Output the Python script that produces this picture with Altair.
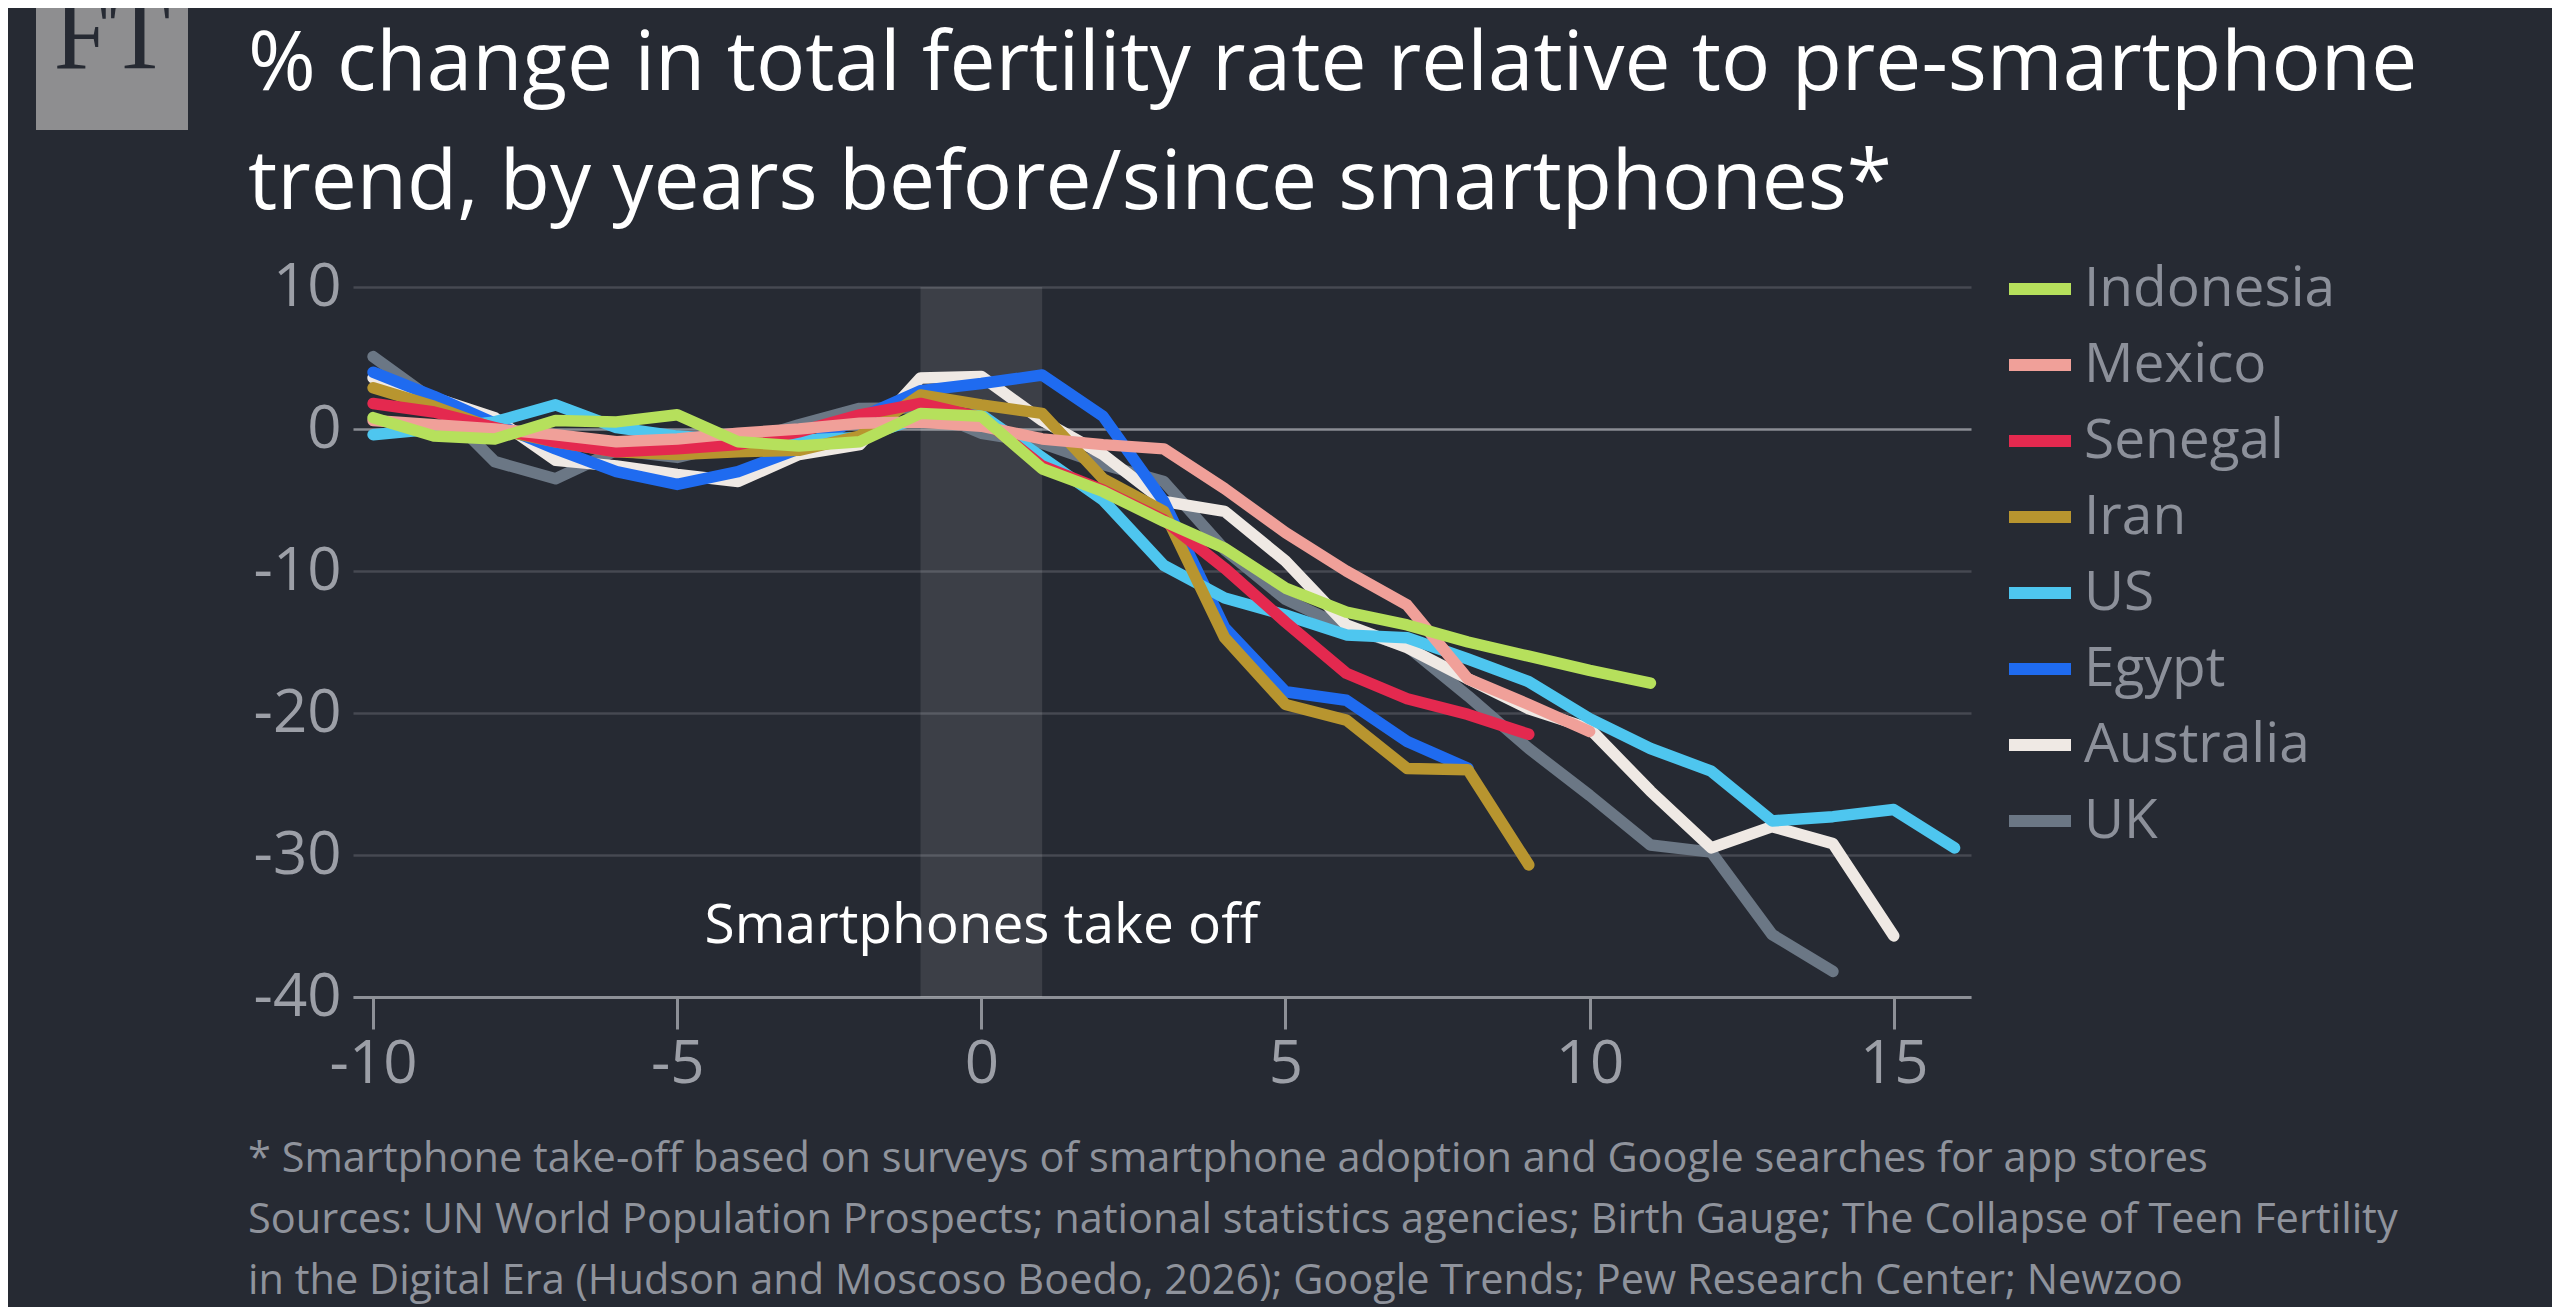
import pandas as pd
import altair as alt

# %% data (years before/since smartphone take-off)
countries = ['Indonesia', 'Mexico', 'Senegal', 'Iran', 'US', 'Egypt', 'Australia', 'UK']
colours = ['#b6e05c', '#f0a099', '#e4294f', '#b8952f', '#4ec6ef', '#1f6bf0', '#efe9e4', '#6b7785']

indonesia = [0.8, -0.5, -0.7, 0.6, 0.5, 1.0, -0.9, -1.2, -0.9, 1.1,
             0.9, -2.8, -4.4, -6.5, -8.4, -11.2, -12.9, -13.8, -15.0, -16.0, -17.0, -17.9]
mexico = [0.6, 0.3, 0.0, -0.4, -0.9, -0.7, -0.3, 0.0, 0.4, 0.5,
          0.2, -0.7, -1.1, -1.4, -4.2, -7.3, -10.0, -12.4, -17.6, -19.4, -21.3]
senegal = [1.8, 1.2, 0.1, -0.9, -1.6, -1.4, -1.1, -0.2, 1.0, 1.8,
           0.8, -2.6, -4.3, -6.4, -9.8, -13.6, -17.2, -19.0, -20.1, -21.5]
iran = [2.9, 1.6, 0.0, -0.9, -1.6, -1.8, -1.6, -1.5, -0.5, 2.4,
        1.7, 1.1, -3.5, -5.8, -14.7, -19.4, -20.5, -23.9, -24.0, -30.7]
us = [-0.4, 0.0, 0.5, 1.7, 0.1, -0.5, -0.8, -0.8, -0.6, 0.8,
      1.0, -2.0, -5.0, -9.6, -11.9, -13.1, -14.5, -14.7, -16.2, -17.8, -20.4, -22.5, -24.1, -27.6, -27.3, -26.8, -29.5]
egypt = [4.0, 2.3, 0.4, -1.4, -3.0, -3.9, -3.0, -1.4, 0.8, 2.7,
         3.2, 3.8, 0.9, -5.1, -14.0, -18.5, -19.1, -22.0, -23.9]
australia = [3.6, 2.2, 0.8, -2.2, -2.6, -3.2, -3.7, -1.8, -1.1, 3.6,
             3.7, 0.6, -1.8, -5.1, -5.8, -9.3, -13.8, -15.4, -17.6, -19.7, -21.1, -25.5, -29.5, -28.0, -29.2, -35.7]
uk = [5.1, 2.0, -2.3, -3.5, -1.5, -2.0, -1.0, 0.3, 1.45, 1.5,
      -0.3, -1.0, -2.5, -3.7, -8.5, -12.0, -14.0, -15.3, -18.8, -22.5, -25.8, -29.3, -29.8, -35.6, -38.2]

series = dict(zip(countries, [indonesia, mexico, senegal, iran, us, egypt, australia, uk]))

x_ticks = [-10, -5, 0, 5, 10, 15]
y_ticks = [-40, -30, -20, -10, 0, 10]

title_lines = ['% change in total fertility rate relative to pre-smartphone',
               'trend, by years before/since smartphones*']
footnote = ['* Smartphone take-off based on surveys of smartphone adoption and Google searches for app stores',
            'Sources: UN World Population Prospects; national statistics agencies; Birth Gauge; The Collapse of Teen Fertility',
            'in the Digital Era (Hudson and Moscoso Boedo, 2026); Google Trends; Pew Research Center; Newzoo']

# %% long table
rows = []
for name, vals in series.items():
    for i, v in enumerate(vals):
        rows.append({'country': name, 'year': -10 + i, 'change': v})
df = pd.DataFrame(rows)

FONT = 'Open Sans'
BG = '#262a33'
W, H = 1618, 710

xscale = alt.Scale(domain=[-10.33, 16.27], nice=False, zero=False)
yscale = alt.Scale(domain=[-40, 10], nice=False)
colour = alt.Color('country:N', scale=alt.Scale(domain=countries, range=colours),
                   legend=alt.Legend(orient='none', legendX=1650, legendY=-35, title=None,
                                     symbolType='stroke', symbolStrokeWidth=12, symbolSize=3844,
                                     labelFont=FONT, labelFontSize=55, labelColor='#8c909a',
                                     labelLimit=0, labelOffset=7, rowPadding=11, padding=0))

xaxis = alt.Axis(values=x_ticks, title=None, grid=False, labelFont=FONT, labelFontSize=60,
                 labelColor='#9c9fa7', domainColor='#8d9097', domainWidth=3, tickColor='#8d9097',
                 tickWidth=3, tickSize=32, labelPadding=6, labelFlush=False,
                 labelExpr="'' + datum.value")
yaxis = alt.Axis(values=y_ticks, title=None, domain=False, ticks=False, labelFont=FONT,
                 labelFontSize=60, labelColor='#9c9fa7', labelPadding=12, grid=True, gridWidth=2.5,
                 labelExpr="'' + datum.value",
                 gridColor=alt.condition('datum.value === 0', alt.value('#8a8d94'), alt.value('#464952')))

# %% smartphone take-off band
band = alt.Chart(pd.DataFrame({'x0': [-1], 'x1': [1], 'y0': [10], 'y1': [-40]})).mark_rect(
    color='white', opacity=0.1
).encode(
    x=alt.X('x0:Q', scale=xscale, axis=xaxis),
    x2='x1:Q',
    y=alt.Y('y0:Q', scale=yscale, axis=yaxis),
    y2='y1:Q',
)

# lines, drawn UK first so Indonesia ends up on top
lines = []
for name in reversed(countries):
    lines.append(
        alt.Chart(df[df.country == name]).mark_line(strokeWidth=11.5, strokeCap='round', strokeJoin='round').encode(
            x=alt.X('year:Q', scale=xscale),
            y=alt.Y('change:Q', scale=yscale),
            color=colour,
        )
    )

label = alt.Chart(pd.DataFrame({'x': [0], 'y': [-35], 't': ['Smartphones take off']})).mark_text(
    font=FONT, fontSize=55, color='white', baseline='middle', align='center'
).encode(x=alt.X('x:Q', scale=xscale), y=alt.Y('y:Q', scale=yscale), text='t:N')

one = alt.Data(values=[{}])
heading = alt.Chart(one).mark_text(
    text=title_lines, font=FONT, fontSize=82, color='white', align='left', baseline='alphabetic', lineHeight=119
).encode(x=alt.value(-105), y=alt.value(-197))

notes = alt.Chart(one).mark_text(
    text=footnote, font=FONT, fontSize=41.5, color='#8f939c', align='left', baseline='alphabetic', lineHeight=61
).encode(x=alt.value(-105), y=alt.value(885))

# FT badge and the strip above it
strip = alt.Chart(one).mark_rect(color='#3a3b40').encode(
    x=alt.value(-353), x2=alt.value(2121), y=alt.value(-300), y2=alt.value(-279))
logo = alt.Chart(one).mark_rect(color='#8e8e90').encode(
    x=alt.value(-317), x2=alt.value(-165), y=alt.value(-300), y2=alt.value(-157))
logo_text = alt.Chart(one).mark_text(
    text='FT', font='Liberation Serif', fontSize=100, color=BG, align='center', baseline='alphabetic'
).encode(x=alt.value(-241), y=alt.value(-219))

chart = alt.layer(band, *lines, label, heading, notes, strip, logo, logo_text).properties(
    width=W, height=H,
    padding={'left': 345, 'top': 279, 'right': 581, 'bottom': 310},
    autosize=alt.AutoSizeParams(type='none'),
).configure(background=BG).configure_view(stroke=None)

chart.save('out.html', embed_options={'renderer': 'svg', 'actions': False})
